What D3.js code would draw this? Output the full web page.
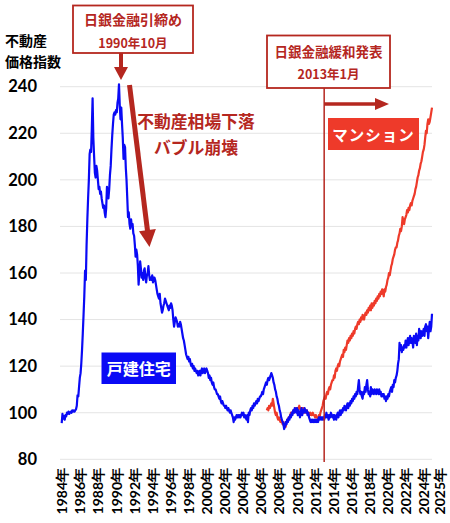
<!DOCTYPE html>
<html>
<head>
<meta charset="utf-8">
<script src="https://cdn.jsdelivr.net/npm/d3@7"></script>
<style>
  body { margin: 0; background: #fff; }
  svg { display: block; }
</style>
</head>
<body>
<div id="chart"></div>
<script>
let w = 450; let h = 523;

// y axis ticks and x axis labels
let yTicks = [80, 100, 120, 140, 160, 180, 200, 220, 240];
let xTickYears = [1984, 1986, 1988, 1990, 1992, 1994, 1996, 1998, 2000, 2002, 2004,
                  2006, 2008, 2010, 2012, 2014, 2016, 2018, 2020, 2022, 2024, 2025];

// 戸建住宅 monthly index, starting 1984-01 (one row per year)
let houseStart = [1984, 0];
let houseValues = [
  [95.5, 99.5, 97.5, 98.5, 97, 99, 98.5, 100, 99.5, 100.5, 99.5, 100],
  [100.5, 100, 101, 100.5, 101, 100.5, 101, 101.5, 103, 107.5, 107, 111],
  [115, 117, 121, 127, 134, 142, 150, 161, 157, 172, 183, 192],
  [200, 211, 213, 212, 222, 235, 218, 210, 203, 201, 206, 204],
  [200, 196, 197, 194, 195, 192, 190, 188, 189, 186, 184, 188],
  [197, 193, 192, 196, 202, 206, 213, 219, 224, 228, 229, 228],
  [230, 229, 233, 235, 241, 232, 226, 231, 224, 218, 209, 215],
  [214, 205, 200, 192, 184, 186, 181, 179, 183, 180, 181, 177],
  [176, 172, 167, 170, 168, 163, 155, 160, 165, 162, 158, 160],
  [157, 161, 162, 158, 156, 159, 160, 163, 159, 157, 158, 157],
  [159, 156, 158, 158, 157, 155, 153, 151, 150, 149, 151, 147],
  [145, 143, 144, 146, 147, 149, 148, 147, 146, 145, 144, 146],
  [145, 147, 146, 144, 140, 137, 139, 141, 140, 139, 137, 138],
  [137, 139, 138, 136, 134, 132, 131, 129, 127, 125, 124, 123],
  [124, 122, 123, 121, 120, 121, 119, 120, 118, 119, 118, 117],
  [118, 116, 117, 118, 116, 118, 119, 117, 118, 119, 117, 118],
  [119, 118, 117, 115, 116, 114, 115, 113, 112, 113, 111, 110],
  [110, 109, 108, 108, 107, 106, 107, 105, 104, 105, 104, 103],
  [103, 102, 103, 102, 101, 102, 101, 100, 101, 100, 99, 98],
  [96, 98, 97, 98, 99, 98, 99, 98, 99, 98, 99, 100],
  [99, 100, 98, 99, 98, 97, 99, 96, 100, 99, 101, 102],
  [101, 103, 102, 104, 103, 104, 105, 104, 106, 105, 106, 107],
  [107, 108, 109, 108, 110, 111, 112, 113, 112, 114, 115, 114],
  [115, 116, 117, 116, 115, 113, 112, 110, 109, 107, 106, 104],
  [103, 101, 100, 98, 97, 96, 95, 93, 94, 96, 95, 97],
  [96, 98, 97, 99, 98, 100, 99, 101, 100, 102, 101, 100],
  [102, 99, 101, 100, 98, 100, 102, 99, 101, 100, 102, 101],
  [100, 101, 99, 100, 98, 97, 96, 97, 96, 97, 96, 97],
  [96, 97, 96, 97, 96, 98, 97, 98, 97, 98, 97, 98],
  [97, 99, 98, 100, 98, 99, 97, 99, 98, 100, 99, 98],
  [99, 97, 99, 98, 97, 99, 100, 98, 100, 101, 99, 101],
  [100, 102, 101, 103, 102, 101, 103, 104, 102, 104, 103, 105],
  [104, 106, 105, 107, 106, 108, 107, 109, 108, 111, 114, 110],
  [108, 109, 107, 106, 109, 108, 111, 109, 112, 114, 110, 108],
  [109, 107, 111, 108, 110, 109, 108, 110, 109, 108, 110, 109],
  [108, 110, 108, 109, 107, 108, 107, 108, 106, 107, 105, 107],
  [106, 108, 107, 109, 110, 111, 109, 112, 111, 114, 113, 115],
  [116, 118, 121, 123, 130, 127, 129, 126, 128, 127, 129, 128],
  [131, 128, 130, 132, 129, 131, 133, 130, 132, 131, 128, 133],
  [132, 130, 134, 129, 133, 131, 136, 134, 132, 135, 133, 134],
  [136, 133, 137, 138, 135, 137, 132, 136, 139, 135, 137, 142.5]
];

// マンション monthly index, starting 2006-09
let condoStart = [2006, 8];
let condoValues = [
  [101, 102, 101, 103],
  [102, 103, 104, 103, 106, 104, 102, 100, 99, 100, 98, 97],
  [98, 97, 96, 97, 96, 95, 96, 95, 94, 94, 96, 97],
  [97, 98, 98, 99, 100, 99, 100, 101, 100, 101, 102, 101],
  [102, 101, 102, 103, 102, 101, 102, 101, 102, 101, 100, 101],
  [100, 101, 100, 99, 100, 99, 100, 99, 99, 100, 99, 99],
  [98, 99, 98, 98, 97, 99, 98, 100, 101, 102, 103, 105],
  [106, 107, 106, 108, 109, 108, 110, 111, 110, 112, 113, 114],
  [114, 116, 115, 118, 119, 118, 120, 121, 120, 122, 123, 124],
  [125, 124, 127, 126, 128, 127, 129, 131, 130, 132, 131, 133],
  [132, 134, 133, 135, 134, 136, 137, 136, 138, 139, 138, 140],
  [139, 141, 140, 142, 141, 140, 142, 143, 142, 144, 143, 145],
  [144, 146, 144, 147, 145, 147, 146, 148, 147, 149, 148, 150],
  [149, 151, 150, 152, 151, 153, 152, 150, 153, 152, 154, 155],
  [157, 158, 160, 159, 161, 163, 164, 166, 167, 168, 170, 171],
  [171, 173, 174, 176, 177, 179, 178, 180, 184, 182, 181, 183],
  [184, 185, 187, 186, 188, 187, 189, 190, 189, 191, 192, 193],
  [194, 196, 197, 199, 201, 202, 204, 205, 207, 208, 210, 212],
  [213, 215, 218, 221, 220, 224, 226, 224, 225, 227, 229, 231]
];

let policyDate = [2013, 0];

let blue = "#0a0af5";
let red = "#ee3a2a";
let dark = "#b5271f";
let jpFont = "'Noto Sans CJK JP', 'Noto Sans', sans-serif";
let numFont = "Lato, 'Noto Sans', sans-serif";

// turn year rows into dated points
function toSeries(start, rows) {
  let out = [];
  let d0 = new Date(start[0], start[1], 1);
  rows.flat().forEach((v, i) => {
    out.push({ date: d3.timeMonth.offset(d0, i), value: v });
  });
  return out;
}

let house = toSeries(houseStart, houseValues);
let condo = toSeries(condoStart, condoValues);

let graph = d3.select("#chart").append("svg")
  .attr("width", w).attr("height", h);

let plotLeft = 60; let plotRight = 432;

let xScale = d3.scaleTime()
  .domain([new Date(1984, 0, 1), new Date(2024, 11, 1)])
  .range([61.7, 432]);
let yScale = d3.scaleLinear().domain([80, 240]).range([459.3, 86.7]);

// gridlines
graph.append("g").selectAll("line").data(yTicks).enter().append("line")
  .attr("x1", plotLeft).attr("x2", plotRight)
  .attr("y1", d => yScale(d)).attr("y2", d => yScale(d))
  .attr("stroke", "#e4e4e4").attr("stroke-width", 1);

// y axis labels
let yAxis = graph.append("g")
  .attr("transform", "translate(" + plotLeft + ",0)")
  .call(d3.axisLeft(yScale).tickValues(yTicks).tickSize(0).tickPadding(23));
yAxis.select(".domain").remove();
yAxis.selectAll("text")
  .attr("font-family", numFont).attr("font-weight", "bold")
  .attr("font-size", "16.5px").attr("fill", "#000");

// x axis labels (rotated)
let xAxis = graph.append("g")
  .attr("transform", "translate(0,462)")
  .call(d3.axisBottom(xScale)
    .tickValues(xTickYears.map(y => new Date(y, 0, 1)))
    .tickFormat(d => d.getFullYear() + "年")
    .tickSize(0));
xAxis.select(".domain").remove();
xAxis.selectAll("text")
  .attr("font-family", numFont).attr("font-weight", "bold")
  .attr("font-size", "14px").attr("fill", "#000")
  .attr("text-anchor", "end")
  .attr("x", -6).attr("y", 0).attr("dy", "0.36em")
  .attr("transform", (d, i) => i === xTickYears.length - 1
    ? "translate(7,0) rotate(-90)" : "rotate(-90)");

// y axis title
graph.append("text").attr("x", 5).attr("y", 46).text("不動産")
  .attr("font-family", jpFont).attr("font-weight", "bold")
  .attr("font-size", "14px").attr("fill", "#000");
graph.append("text").attr("x", 5).attr("y", 67).text("価格指数")
  .attr("font-family", jpFont).attr("font-weight", "bold")
  .attr("font-size", "14px").attr("fill", "#000");

// lines
let line = d3.line()
  .x(d => xScale(d.date))
  .y(d => yScale(d.value));

graph.append("path").datum(condo)
  .attr("d", line).attr("fill", "none")
  .attr("stroke", red).attr("stroke-width", 2.2)
  .attr("stroke-linejoin", "round");

graph.append("path").datum(house)
  .attr("d", line).attr("fill", "none")
  .attr("stroke", blue).attr("stroke-width", 2.2)
  .attr("stroke-linejoin", "round");

// policy line 2013-01
let px = xScale(new Date(policyDate[0], policyDate[1], 1));
graph.append("line")
  .attr("x1", px).attr("x2", px).attr("y1", 88).attr("y2", 462)
  .attr("stroke", dark).attr("stroke-width", 1.5);

// arrow helper: shaft plus triangle head
function arrow(x1, y1, x2, y2, width, headLen, headW) {
  let dx = x2 - x1; let dy = y2 - y1;
  let len = Math.sqrt(dx * dx + dy * dy);
  let ux = dx / len; let uy = dy / len;
  let bx = x2 - ux * headLen; let by = y2 - uy * headLen;
  graph.append("line")
    .attr("x1", x1).attr("y1", y1).attr("x2", bx + ux).attr("y2", by + uy)
    .attr("stroke", dark).attr("stroke-width", width);
  let pts = [[x2, y2],
    [bx - uy * headW / 2, by + ux * headW / 2],
    [bx + uy * headW / 2, by - ux * headW / 2]];
  graph.append("polygon")
    .attr("points", pts.map(p => p.join(",")).join(" "))
    .attr("fill", dark);
}

// box 1: 日銀金融引締め
graph.append("rect").attr("x", 73).attr("y", 5.5).attr("width", 120).attr("height", 47.5)
  .attr("fill", "#fff").attr("stroke", dark).attr("stroke-width", 1.8);
graph.append("text").attr("x", 133).attr("y", 25).attr("text-anchor", "middle")
  .text("日銀金融引締め")
  .attr("font-family", jpFont).attr("font-weight", "bold")
  .attr("font-size", "14px").attr("fill", dark);
graph.append("text").attr("x", 133).attr("y", 48).attr("text-anchor", "middle")
  .text("1990年10月")
  .attr("font-family", jpFont).attr("font-weight", "bold")
  .attr("font-size", "12.5px").attr("fill", dark);
arrow(121, 53, 121, 80, 4, 13, 14);

// bubble collapse arrow and text
arrow(129.5, 85, 149.5, 247, 5, 17, 17);
graph.append("text").attr("x", 196).attr("y", 128).attr("text-anchor", "middle")
  .text("不動産相場下落")
  .attr("font-family", jpFont).attr("font-weight", "bold")
  .attr("font-size", "16.8px").attr("fill", dark);
graph.append("text").attr("x", 196).attr("y", 154).attr("text-anchor", "middle")
  .text("バブル崩壊")
  .attr("font-family", jpFont).attr("font-weight", "bold")
  .attr("font-size", "16.8px").attr("fill", dark);

// box 2: 日銀金融緩和発表
graph.append("rect").attr("x", 267).attr("y", 35.5).attr("width", 123).attr("height", 52.5)
  .attr("fill", "#fff").attr("stroke", dark).attr("stroke-width", 1.8);
graph.append("text").attr("x", 328.5).attr("y", 57).attr("text-anchor", "middle")
  .text("日銀金融緩和発表")
  .attr("font-family", jpFont).attr("font-weight", "bold")
  .attr("font-size", "13.5px").attr("fill", dark);
graph.append("text").attr("x", 328.5).attr("y", 79).attr("text-anchor", "middle")
  .text("2013年1月")
  .attr("font-family", jpFont).attr("font-weight", "bold")
  .attr("font-size", "12.5px").attr("fill", dark);
arrow(px, 104, 389, 104, 3.5, 14, 12);

// series labels
graph.append("rect").attr("x", 328).attr("y", 118).attr("width", 91).attr("height", 32)
  .attr("fill", red);
graph.append("text").attr("x", 373.5).attr("y", 141).attr("text-anchor", "middle")
  .text("マンション")
  .attr("font-family", jpFont).attr("font-weight", "bold")
  .attr("font-size", "15.5px").attr("letter-spacing", "1px").attr("fill", "#fff");

graph.append("rect").attr("x", 101.5).attr("y", 352.5).attr("width", 74.5).attr("height", 31.5)
  .attr("fill", blue);
graph.append("text").attr("x", 138.7).attr("y", 374.5).attr("text-anchor", "middle")
  .text("戸建住宅")
  .attr("font-family", jpFont).attr("font-weight", "bold")
  .attr("font-size", "16px").attr("fill", "#fff");
</script>
</body>
</html>
